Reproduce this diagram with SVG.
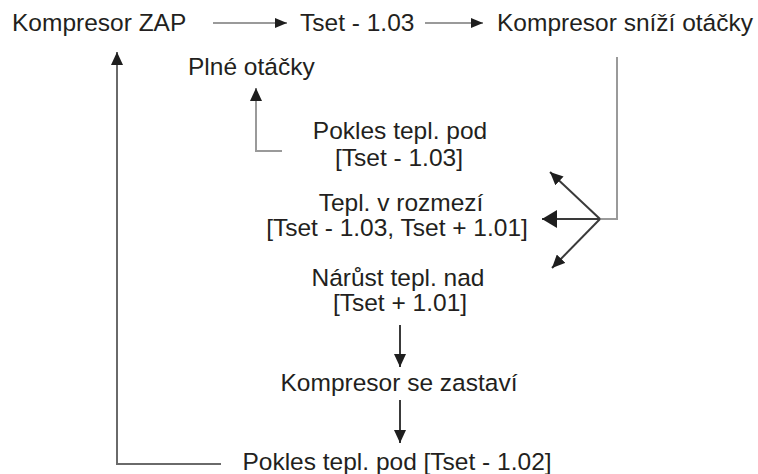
<svg xmlns="http://www.w3.org/2000/svg" width="758" height="474" viewBox="0 0 758 474">
<style>
text{font-family:"Liberation Sans",Arial,sans-serif;font-size:24.5px;fill:#231f20}
.c{text-anchor:middle}
.ln{fill:none;stroke-width:2}
.lg{stroke:#9a9a9a}
.md{stroke:#6a6a6a}
.dk{stroke:#3a3a3a}
</style>
<defs>
<marker id="ah" viewBox="0 0 13 12" refX="13" refY="6" markerWidth="13" markerHeight="12" markerUnits="userSpaceOnUse" orient="auto">
<path d="M0,0 L13,6 L0,12 z" fill="#1e1e1e"/>
</marker>
<marker id="ahs" viewBox="0 0 12 10" refX="12" refY="5" markerWidth="12" markerHeight="10" markerUnits="userSpaceOnUse" orient="auto">
<path d="M0,0 L12,5 L0,10 z" fill="#1e1e1e"/>
</marker>
<marker id="ahb" viewBox="0 0 15 18" refX="15" refY="9" markerWidth="15" markerHeight="18" markerUnits="userSpaceOnUse" orient="auto">
<path d="M0,0 L15,9 L0,18 z" fill="#1e1e1e"/>
</marker>
</defs>
<g id="n-zap"><text x="12" y="31">Kompresor ZAP</text></g>
<g id="n-tset"><text x="300" y="31">Tset - 1.03</text></g>
<g id="n-snizi"><text x="497" y="31">Kompresor sníží otáčky</text></g>
<g id="n-plne"><text x="188" y="75">Plné otáčky</text></g>
<g id="n-pokles1"><text class="c" x="400" y="139">Pokles tepl. pod</text><text class="c" x="399" y="166">[Tset - 1.03]</text></g>
<g id="n-rozmezi"><text class="c" x="401" y="211">Tepl. v rozmezí</text><text class="c" x="397" y="236">[Tset - 1.03, Tset + 1.01]</text></g>
<g id="n-narust"><text class="c" x="398" y="286">Nárůst tepl. nad</text><text class="c" x="400" y="311">[Tset + 1.01]</text></g>
<g id="n-zastavi"><text class="c" x="399" y="391">Kompresor se zastaví</text></g>
<g id="n-pokles2"><text class="c" x="397" y="470">Pokles tepl. pod [Tset - 1.02]</text></g>
<g id="connectors">
<line class="ln lg" x1="213" y1="23" x2="287" y2="23" marker-end="url(#ahs)"/>
<line class="ln lg" x1="425" y1="23" x2="483" y2="23" marker-end="url(#ahs)"/>
<polyline class="ln lg" points="617,57 617,219 600,219"/>
<line class="ln dk" x1="600" y1="219" x2="542" y2="219" marker-end="url(#ahb)"/>
<line class="ln dk" x1="600" y1="219" x2="550" y2="172" marker-end="url(#ah)"/>
<line class="ln dk" x1="600" y1="219" x2="552" y2="268" marker-end="url(#ah)"/>
<polyline class="ln lg" points="282,151 256,151 256,88" marker-end="url(#ah)"/>
<line class="ln dk" x1="400" y1="325" x2="400" y2="367" marker-end="url(#ah)"/>
<line class="ln dk" x1="400" y1="400" x2="400" y2="443" marker-end="url(#ah)"/>
<polyline class="ln md" points="221,464 117,464 117,52" marker-end="url(#ah)"/>
</g>
</svg>
